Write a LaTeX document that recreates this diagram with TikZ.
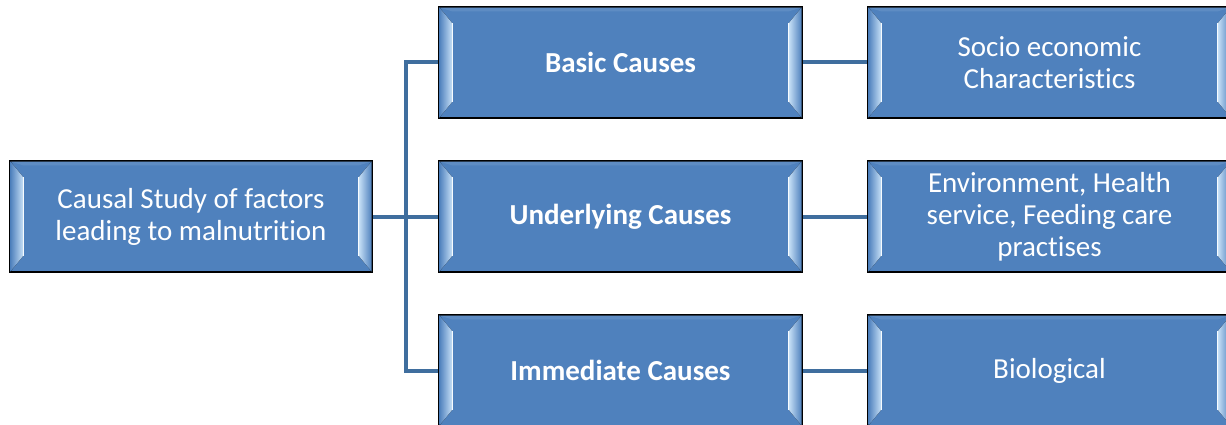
\documentclass[tikz,border=0pt]{standalone}
\usepackage{fontspec}
\setmainfont[Ligatures={NoCommon}]{Carlito}
\usetikzlibrary{backgrounds}
\definecolor{boxfill}{HTML}{4F81BD}
\definecolor{linec}{HTML}{3F6E9E}
\definecolor{bevlight}{HTML}{C9E2F8}
\newcommand{\bevelbox}[1]{%
  \fill[left color=boxfill, right color=bevlight]
    ([shift={(1,1)}]#1.north west) -- ([shift={(14,17)}]#1.north west) --
    ([shift={(14,-17)}]#1.south west) -- ([shift={(1,-1)}]#1.south west) -- cycle;
  \fill[left color=bevlight, right color=boxfill]
    ([shift={(-1,1)}]#1.north east) -- ([shift={(-14,17)}]#1.north east) --
    ([shift={(-14,-17)}]#1.south east) -- ([shift={(-1,-1)}]#1.south east) -- cycle;
  \draw[white!85!bevlight, line width=1.2pt]
    ([shift={(14,17)}]#1.north west) -- ([shift={(14,-17)}]#1.south west);
  \draw[white!85!bevlight, line width=1.2pt]
    ([shift={(-14,17)}]#1.north east) -- ([shift={(-14,-17)}]#1.south east);
  \fill[boxfill!85!white, opacity=0.6]
    ([shift={(1,1)}]#1.north west) -- ([shift={(-1,1)}]#1.north east) --
    ([shift={(-14,5)}]#1.north east) -- ([shift={(14,5)}]#1.north west) -- cycle;
  \draw[black, line width=1.1pt] (#1.north west) rectangle (#1.south east);
}
\begin{document}
\begin{tikzpicture}[x=1pt,y=-1pt,
  cbox/.style={fill=boxfill, draw=black, line width=1.1pt, minimum width=363pt,
    minimum height=111pt, inner sep=0pt, text=white, align=center,
    font=\fontsize{29}{32}\selectfont},
  lbl/.style={text=white, align=center, font=\fontsize{29}{32}\selectfont},
  blbl/.style={lbl, font=\fontsize{29}{32}\selectfont\bfseries},
  conn/.style={draw=linec, line width=4pt}]
\useasboundingbox (0,0) rectangle (1226,425);

\node[cbox, minimum width=362pt] (L) at (191,216.5) {};
\node[cbox] (M1) at (620.5,62.5) {};
\node[cbox] (M2) at (620.5,216.5) {};
\node[cbox] (M3) at (620.5,370.5) {};
\node[cbox] (R1) at (1049.5,62.5) {};
\node[cbox] (R2) at (1049.5,216.5) {};
\node[cbox] (R3) at (1049.5,370.5) {};

\begin{scope}[on background layer]
\coordinate (J1) at (406,62.5);
\coordinate (J3) at (406,370.5);
\draw[conn] (L.east) -- (M2.west);
\draw[conn] (J1) -- (J3);
\draw[conn] ([xshift=-2pt]J1) -- (M1.west);
\draw[conn] ([xshift=-2pt]J3) -- (M3.west);
\draw[conn] (M1.east) -- (R1.west);
\draw[conn] (M2.east) -- (R2.west);
\draw[conn] (M3.east) -- (R3.west);
\end{scope}

\foreach \n in {L,M1,M2,M3,R1,R2,R3} {\bevelbox{\n}}

\node[lbl] (tL) at (L) {Causal Study of factors\\leading to malnutrition};
\node[blbl] (tM1) at (M1) {Basic Causes};
\node[blbl] (tM2) at (M2) {Underlying Causes};
\node[blbl] (tM3) at (M3) {Immediate Causes};
\node[lbl] (tR1) at (R1) {Socio economic\\Characteristics};
\node[lbl] (tR2) at (R2) {Environment, Health\\service, Feeding care\\practises};
\node[lbl] (tR3) at (R3) {Biological};
\end{tikzpicture}
\end{document}
